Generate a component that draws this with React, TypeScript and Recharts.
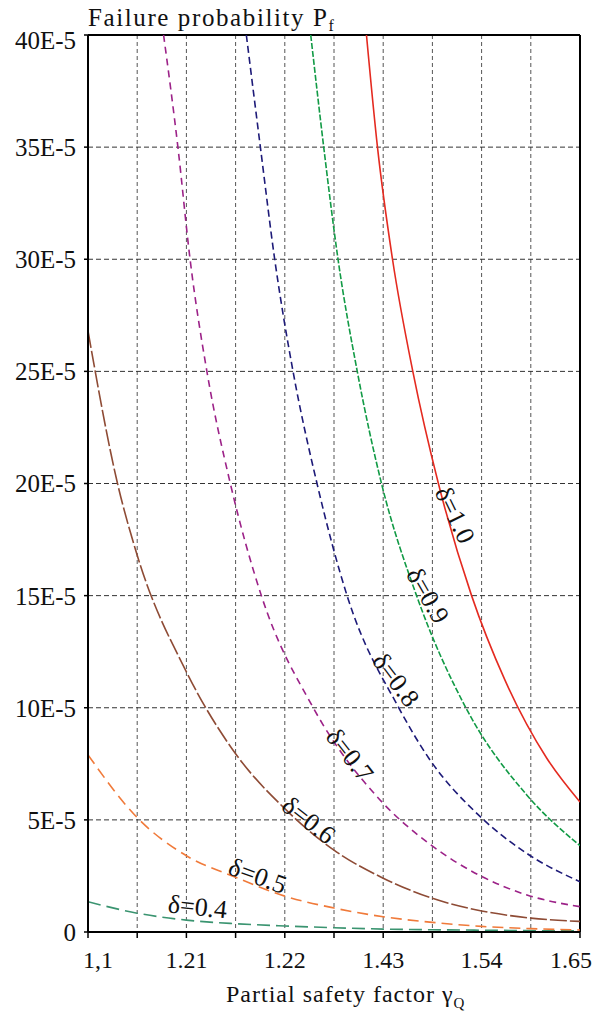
import {
  LineChart,
  Line,
  XAxis,
  YAxis,
  CartesianGrid,
  ReferenceLine,
  ReferenceDot,
} from "recharts";

// gridline positions on the gamma axis, labels only on every other one
const X_TICKS = [1.1, 1.155, 1.21, 1.265, 1.32, 1.375, 1.43, 1.485, 1.54, 1.595, 1.65];
const X_TICK_LABELS = ["1,1", "1.21", "1.22", "1.43", "1.54", "1.65"];
const Y_TICKS = [0, 5, 10, 15, 20, 25, 30, 35, 40];

// Pf values in units of 1E-5, [gamma, Pf]
const D04: [number, number][] = [
  [1.1, 1.35], [1.155, 0.84], [1.21, 0.53], [1.265, 0.37], [1.32, 0.27], [1.375, 0.19],
  [1.43, 0.13], [1.485, 0.1], [1.54, 0.08], [1.595, 0.06], [1.65, 0.05],
];
const D05: [number, number][] = [
  [1.1, 7.9], [1.155, 5.1], [1.21, 3.4], [1.265, 2.44], [1.32, 1.6], [1.375, 1.07],
  [1.43, 0.68], [1.485, 0.43], [1.54, 0.25], [1.595, 0.15], [1.65, 0.09],
];
const D06: [number, number][] = [
  [1.1, 26.8], [1.133, 20], [1.155, 16.8], [1.21, 11.6], [1.265, 7.95], [1.32, 5.5],
  [1.375, 3.65], [1.43, 2.4], [1.485, 1.5], [1.54, 0.94], [1.595, 0.62], [1.65, 0.47],
];
const D07: [number, number][] = [
  [1.1845, 40], [1.2005, 35], [1.2141, 30], [1.2329, 25], [1.2591, 20], [1.2938, 15],
  [1.3518, 10], [1.4262, 5.9], [1.481, 3.95], [1.537, 2.54], [1.5907, 1.65], [1.65, 1.13],
];
const D08: [number, number][] = [
  [1.277, 40], [1.2927, 35], [1.3087, 30], [1.3292, 25], [1.356, 20], [1.3896, 15],
  [1.4474, 10], [1.481, 7.75], [1.537, 5.2], [1.5907, 3.5], [1.65, 2.24],
];
const D09: [number, number][] = [
  [1.349, 40], [1.3635, 35], [1.3795, 30], [1.401, 25], [1.4281, 20], [1.4673, 15],
  [1.5224, 10], [1.5907, 6.1], [1.65, 3.85],
];
const D10: [number, number][] = [
  [1.4113, 40], [1.4236, 35], [1.4404, 30], [1.4631, 25], [1.4917, 20], [1.5288, 15],
  [1.566, 11.24], [1.6127, 7.76], [1.65, 5.8],
];

const SERIES = [
  { name: "0.4", pts: D04, color: "#3a9470", dash: "13 6" },
  { name: "0.5", pts: D05, color: "#f07a3a", dash: "11 6" },
  { name: "0.6", pts: D06, color: "#8e4b35", dash: "17 3" },
  { name: "0.7", pts: D07, color: "#9c2288", dash: "7 5" },
  { name: "0.8", pts: D08, color: "#1d1a78", dash: "7 4" },
  { name: "0.9", pts: D09, color: "#119a45", dash: "6 2" },
  { name: "1.0", pts: D10, color: "#e42a20", dash: undefined },
];

// curve labels: [text, gamma, Pf, angle]
const LABELS: [string, number, number, number][] = [
  ["δ=1.0", 1.5101, 18.6, 64],
  ["δ=0.9", 1.4799, 15.0, 60],
  ["δ=0.8", 1.4441, 11.24, 53],
  ["δ=0.7", 1.3926, 7.89, 52],
  ["δ=0.6", 1.3467, 4.98, 38],
  ["δ=0.5", 1.2897, 2.5, 20],
  ["δ=0.4", 1.2225, 1.12, 6],
];

const FONT = '"Liberation Serif", "Times New Roman", Times, serif';

const XTick = (props: any) => {
  const { x, y, payload } = props;
  const i = X_TICKS.findIndex((t) => Math.abs(t - payload.value) < 1e-6);
  if (i % 2 !== 0) return null;
  const lbl = X_TICK_LABELS[i / 2];
  let dx = 0;
  if (i === 0) dx = 10;
  if (i === X_TICKS.length - 1) dx = -9;
  return (
    <text x={x + dx} y={y} dy={28} textAnchor="middle" fontSize={24} fontFamily={FONT} fill="#111">
      {lbl}
    </text>
  );
};

const YTick = (props: any) => {
  const { x, y, payload } = props;
  const v = payload.value;
  const lbl = v === 0 ? "0" : `${v}E-5`;
  const shift = v === 40 ? 5 : 0;
  return (
    <text x={x} y={y + shift} dy="0.355em" textAnchor="end" fontSize={25} fontFamily={FONT} fill="#111">
      {lbl}
    </text>
  );
};

export default function App() {
  return (
    <div style={{ position: "relative", width: 595, height: 1004, fontFamily: FONT, color: "#111" }}>
      <LineChart width={595} height={1004} margin={{ top: 27, right: 23, bottom: 0, left: 0 }}>
        <CartesianGrid horizontal={false} stroke="#555" strokeDasharray="4 3" />
        <CartesianGrid vertical={false} stroke="#333" strokeDasharray="5 3" />
        <XAxis
          type="number"
          dataKey="x"
          domain={[1.1, 1.65]}
          ticks={X_TICKS}
          interval={0}
          allowDataOverflow
          height={80}
          tick={<XTick />}
          tickSize={6}
          tickMargin={2}
          tickLine={{ stroke: "#000", strokeWidth: 1.5 }}
          axisLine={{ stroke: "#000", strokeWidth: 2 }}
        />
        <YAxis
          type="number"
          domain={[0, 40]}
          ticks={Y_TICKS}
          interval={0}
          allowDataOverflow
          width={80}
          tick={<YTick />}
          tickSize={4}
          tickMargin={8}
          tickLine={{ stroke: "#000", strokeWidth: 1.5 }}
          axisLine={{ stroke: "#000", strokeWidth: 2 }}
        />
        <ReferenceLine y={40} stroke="#000" strokeWidth={2} />
        <ReferenceLine x={1.65} stroke="#000" strokeWidth={2} />
        {SERIES.map((s) => (
          <Line
            key={s.name}
            data={s.pts.map(([x, y]) => ({ x, y }))}
            dataKey="y"
            type="monotone"
            stroke={s.color}
            strokeWidth={1.6}
            strokeDasharray={s.dash}
            dot={false}
            activeDot={false}
            isAnimationActive={false}
          />
        ))}
        {LABELS.map(([t, x, y, a]) => (
          <ReferenceDot
            key={t}
            x={x}
            y={y}
            r={0}
            ifOverflow="visible"
            shape={(p: any) => (
              <text
                x={p.cx}
                y={p.cy}
                transform={`rotate(${a} ${p.cx} ${p.cy})`}
                textAnchor="middle"
                dominantBaseline="central"
                fontSize={26}
                fontFamily={FONT}
                fill="#111"
              >
                {t}
              </text>
            )}
          />
        ))}
      </LineChart>
      <div
        style={{ position: "absolute", left: 80, top: -3, fontSize: 25, lineHeight: 1, letterSpacing: 1.6, whiteSpace: "nowrap" }}
      >
        Failure probability P<span style={{ fontSize: 16, position: "relative", top: 5 }}>f</span>
      </div>
      <div
        style={{ position: "absolute", left: 218, top: 974, fontSize: 24, lineHeight: 1, letterSpacing: 1, whiteSpace: "nowrap" }}
      >
        Partial safety factor γ<span style={{ fontSize: 15, position: "relative", top: 6 }}>Q</span>
      </div>
    </div>
  );
}
